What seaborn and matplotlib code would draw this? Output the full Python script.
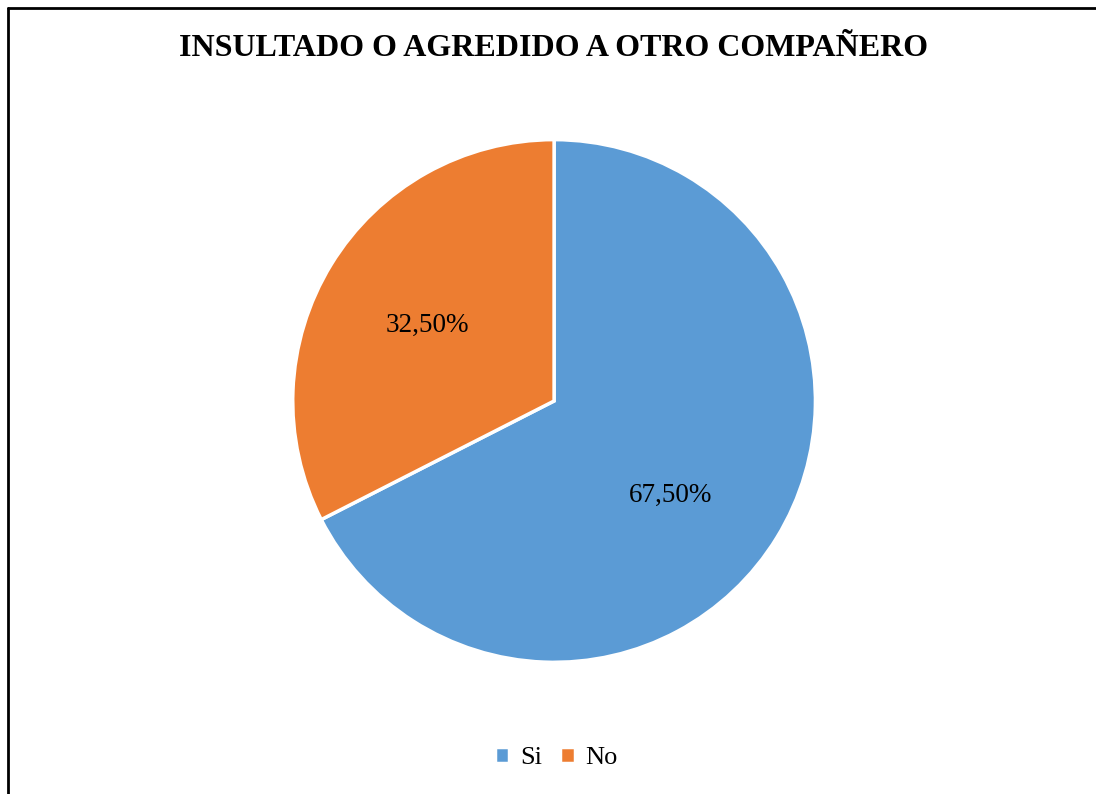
import matplotlib
matplotlib.use('Agg')
import numpy as np
import matplotlib.pyplot as plt
import seaborn as sns
from matplotlib.lines import Line2D

# Data
categories = ['Si', 'No']
values = [67.5, 32.5]
colors = ['#5B9BD5', '#ED7D31']

sns.set_theme(style='white')
plt.rcParams['font.family'] = ['Liberation Serif', 'DejaVu Serif']
plt.rcParams['text.color'] = 'black'

fig = plt.figure(figsize=(10.96, 7.94), dpi=100)

# Frame around the chart (left and top edges visible)
fig.add_artist(Line2D([8 / 1096, 8 / 1096], [0, 1 - 8 / 794], color='black', lw=2, transform=fig.transFigure))
fig.add_artist(Line2D([8 / 1096, 1], [1 - 8 / 794, 1 - 8 / 794], color='black', lw=2, transform=fig.transFigure))

ax = fig.add_axes([0.2683, 0.1675, 0.4745, 0.655])
wedges, texts, autotexts = ax.pie(
    values,
    colors=sns.color_palette(colors),
    startangle=90,
    counterclock=False,
    autopct=lambda p: f"{p:.2f}%".replace('.', ','),
    pctdistance=0.57,
    wedgeprops=dict(edgecolor='white', linewidth=2.5),
    textprops=dict(fontsize=19.5, color='black'),
)
ax.set_xlim(-0.995, 0.995)
ax.set_ylim(-0.995, 0.995)
ax.set_aspect('equal')

# label placement similar to the original (best fit)
label_pos = [(0.575, -39), (0.565, 149)]
for t, (r, a) in zip(autotexts, label_pos):
    t.set_position((r * np.cos(np.radians(a)), r * np.sin(np.radians(a))))

fig.text(0.5055, 1 - 48 / 794, 'INSULTADO O AGREDIDO A OTRO COMPAÑERO',
         ha='center', va='center', fontsize=23, fontweight='bold', color='black')

fig.legend(wedges, categories, loc='center', bbox_to_anchor=(0.5075, 1 - 758 / 794),
           ncol=2, frameon=False, fontsize=19, handlelength=0.55, handleheight=0.55,
           handletextpad=0.4, columnspacing=0.7, labelcolor='black')

fig.savefig('out.png', dpi=100)
